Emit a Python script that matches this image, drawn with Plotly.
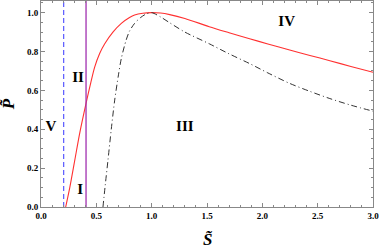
import plotly.graph_objects as go

# Red solid curve
red_s = [0.223, 0.26, 0.305, 0.35, 0.407, 0.45, 0.485, 0.53, 0.576, 0.65, 0.726, 0.80, 0.846, 0.92, 1.0,
         1.08, 1.163, 1.3, 1.52, 1.70, 1.885, 2.05, 2.247, 2.43, 2.61, 2.80, 3.0]
red_p = [0.0, 0.10, 0.24, 0.38, 0.533, 0.64, 0.72, 0.79, 0.84, 0.90, 0.945, 0.975, 0.988, 0.997, 1.0,
         0.998, 0.99, 0.97, 0.928, 0.897, 0.866, 0.839, 0.808, 0.780, 0.753, 0.723, 0.693]

# Black dash-dot curve
dd_s = [0.56, 0.58, 0.605, 0.635, 0.666, 0.70, 0.726, 0.77, 0.80, 0.846, 0.90, 0.95, 1.0,
        1.08, 1.163, 1.3, 1.52, 1.70, 1.885, 2.05, 2.247, 2.43, 2.61, 2.80, 3.0]
dd_p = [0.0, 0.11, 0.24, 0.40, 0.55, 0.68, 0.765, 0.86, 0.905, 0.945, 0.975, 0.993, 1.0,
        0.978, 0.948, 0.90, 0.84, 0.788, 0.738, 0.69, 0.636, 0.595, 0.558, 0.524, 0.493]

blue_s = 0.205
purple_s = 0.407

region_labels = ["V", "II", "I", "III", "IV"]
region_s = [0.09, 0.335, 0.355, 1.3, 2.22]
region_p = [0.41, 0.66, 0.085, 0.41, 0.95]

x_ticks = [0, 0.5, 1.0, 1.5, 2.0, 2.5, 3.0]
y_ticks = [0, 0.2, 0.4, 0.6, 0.8, 1.0]

fig = go.Figure()
fig.add_trace(go.Scatter(x=red_s, y=red_p, mode="lines", line=dict(color="#ff3030", width=1.1, shape="spline", smoothing=0.8),
                         showlegend=False))
fig.add_trace(go.Scatter(x=dd_s, y=dd_p, mode="lines",
                         line=dict(color="#333333", width=1, dash="6px,3px,1px,3px", shape="spline", smoothing=0.8),
                         showlegend=False))
fig.add_trace(go.Scatter(x=[blue_s, blue_s], y=[0, 1.06], mode="lines",
                         line=dict(color="#4a4aff", width=1.1, dash="5px,3px"), showlegend=False))
fig.add_trace(go.Scatter(x=[purple_s, purple_s], y=[0, 1.06], mode="lines",
                         line=dict(color="#a030b0", width=1.3), showlegend=False))
fig.add_trace(go.Scatter(x=region_s, y=region_p, mode="text", text=region_labels,
                         textfont=dict(family="Liberation Serif", size=15, color="black"),
                         texttemplate="<b>%{text}</b>", showlegend=False))

axis_common = dict(showgrid=False, zeroline=False, showline=True, linecolor="#888888", linewidth=1,
                   mirror="ticks", ticks="inside", ticklen=4, tickcolor="#888888", automargin=False,
                   tickfont=dict(family="Liberation Serif", size=9, color="black"))

fig.update_xaxes(range=[0, 3.0], tickvals=x_ticks,
                 ticktext=["<b>%.1f</b>" % v for v in x_ticks],
                 minor=dict(dtick=0.1, ticks="inside", ticklen=2, tickcolor="#888888"),
                 **axis_common)
fig.update_yaxes(range=[0, 1.06], tickvals=y_ticks,
                 ticktext=["<b>%.1f</b>" % v for v in y_ticks],
                 minor=dict(dtick=0.05, ticks="inside", ticklen=2, tickcolor="#888888"),
                 **axis_common)

fig.add_annotation(text="<b><i>S̃</i></b>", xref="paper", yref="paper", x=0.5, y=-0.16,
                   showarrow=False, yanchor="middle", xanchor="center",
                   font=dict(family="Liberation Serif", size=17, color="black"))
fig.add_annotation(text="<b><i>P̃</i></b>", xref="paper", yref="paper", x=-0.099, y=0.5,
                   showarrow=False, yanchor="middle", xanchor="center", textangle=-90,
                   font=dict(family="Liberation Serif", size=17, color="black"))

fig.update_layout(width=382, height=248, margin=dict(l=41, r=9, t=1, b=41, autoexpand=False),
                  plot_bgcolor="white", paper_bgcolor="white", hovermode=False)
fig.write_html("out.html", config={"displayModeBar": False},
               post_script="document.body.style.margin='0';document.body.style.overflow='hidden';")
